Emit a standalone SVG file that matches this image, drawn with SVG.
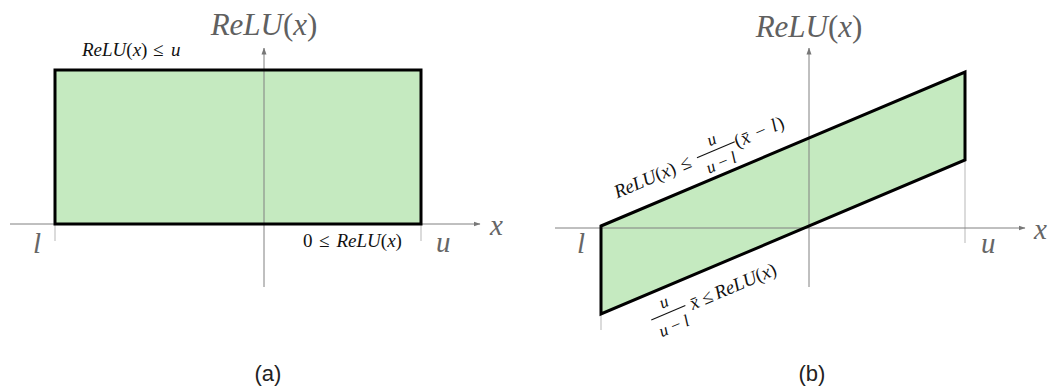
<svg xmlns="http://www.w3.org/2000/svg" width="1051" height="388" viewBox="0 0 1051 388">
<defs>
<marker id="arr" markerWidth="7" markerHeight="6" refX="6.5" refY="3" orient="auto" markerUnits="userSpaceOnUse">
<path d="M0,0.5 L7,3 L0,5.5 z" fill="#777"/>
</marker>
<style>
.axis{stroke:#808080;stroke-width:1;fill:none}
.tick{stroke:#cfcfcf;stroke-width:1.5;fill:none}
.region{fill:#c5eac0;stroke:none}
.edge{fill:none;stroke:#000;stroke-width:3;stroke-linejoin:miter}
.t{font-family:"Liberation Serif","Times New Roman",serif;fill:#111}
.it{font-style:italic}
.big{font-family:"Liberation Serif","Times New Roman",serif;fill:#606060;font-size:31px}
.ax{font-family:"Liberation Serif","Times New Roman",serif;fill:#666;font-size:29px;font-style:italic}
.lab{font-size:19px}
.fr{font-size:17px}
.bar{stroke:#111;stroke-width:1.1}
.cap{font-family:"Liberation Sans",Arial,sans-serif;font-size:22px;fill:#222;text-anchor:middle}
</style>
</defs>

<g id="panel-a">
<rect id="a-region" class="region" x="55" y="70" width="366" height="154"/>
<g id="a-connectors">
<line class="tick" x1="55" y1="224" x2="55" y2="241"/>
<line class="tick" x1="421" y1="224" x2="421" y2="241"/>
<line class="axis" x1="10" y1="224" x2="480" y2="224" marker-end="url(#arr)"/>
<line class="axis" x1="264" y1="287" x2="264" y2="48" marker-end="url(#arr)"/>
</g>
<rect id="a-box" class="edge" x="55" y="70" width="366" height="154"/>
<text class="big" x="264" y="35" text-anchor="middle"><tspan class="it">ReLU</tspan>(<tspan class="it">x</tspan>)</text>
<text class="ax" x="33" y="253">l</text>
<text class="ax" x="436" y="252">u</text>
<text class="ax" x="490" y="235">x</text>
<text id="a-upper" class="t lab" y="56"><tspan x="82" class="it">ReLU</tspan>(<tspan class="it">x</tspan>)<tspan x="153">≤</tspan><tspan x="171" class="it">u</tspan></text>
<text id="a-lower" class="t lab" y="247"><tspan x="303">0</tspan><tspan x="319">≤</tspan><tspan x="336.5" class="it">ReLU</tspan>(<tspan class="it">x</tspan>)</text>
</g>

<g id="panel-b">
<polygon id="b-region" class="region" points="601,226 965,72 965,160 601,314"/>
<g id="b-connectors">
<line class="tick" x1="601" y1="228" x2="601" y2="330"/>
<line class="tick" x1="965" y1="160" x2="965" y2="243"/>
<line class="axis" x1="555" y1="228" x2="1025" y2="228" marker-end="url(#arr)"/>
<line class="axis" x1="809" y1="287" x2="809" y2="48" marker-end="url(#arr)"/>
</g>
<polygon id="b-box" class="edge" points="601,226 965,72 965,160 601,314"/>
<text class="big" x="809" y="37" text-anchor="middle"><tspan class="it">ReLU</tspan>(<tspan class="it">x</tspan>)</text>
<text class="ax" x="577" y="253">l</text>
<text class="ax" x="981" y="253">u</text>
<text class="ax" x="1034" y="239">x</text>

<g id="b-upper" transform="translate(601,226) rotate(-22.93)">
<text class="t lab" y="-19"><tspan x="25.6" class="it">ReLU</tspan>(<tspan class="it">x</tspan>)<tspan x="97">≤</tspan></text>
<line class="bar" x1="115" y1="-25.5" x2="156" y2="-25.5"/>
<text class="t fr it" x="135.5" y="-31" text-anchor="middle">u</text>
<text class="t fr" x="135.5" y="-6" text-anchor="middle"><tspan class="it">u</tspan> − <tspan class="it">l</tspan></text>
<text class="t lab" y="-19"><tspan x="156">(</tspan><tspan x="163" class="it">x̄</tspan><tspan x="178.5">−</tspan><tspan x="196" class="it">l</tspan><tspan x="202">)</tspan></text>
</g>

<g id="b-lower" transform="translate(601,314) rotate(-22.93)">
<line class="bar" x1="44" y1="25" x2="81" y2="25"/>
<text class="t fr it" x="62.5" y="19" text-anchor="middle">u</text>
<text class="t fr" x="62.5" y="45" text-anchor="middle"><tspan class="it">u</tspan> − <tspan class="it">l</tspan></text>
<text class="t lab" y="32"><tspan x="86" class="it">x̄</tspan><tspan x="99">≤</tspan><tspan x="113" class="it">ReLU</tspan>(<tspan class="it">x</tspan>)</text>
</g>
</g>

<text id="cap-a" class="cap" x="268" y="381">(a)</text>
<text id="cap-b" class="cap" x="812" y="381">(b)</text>
</svg>
